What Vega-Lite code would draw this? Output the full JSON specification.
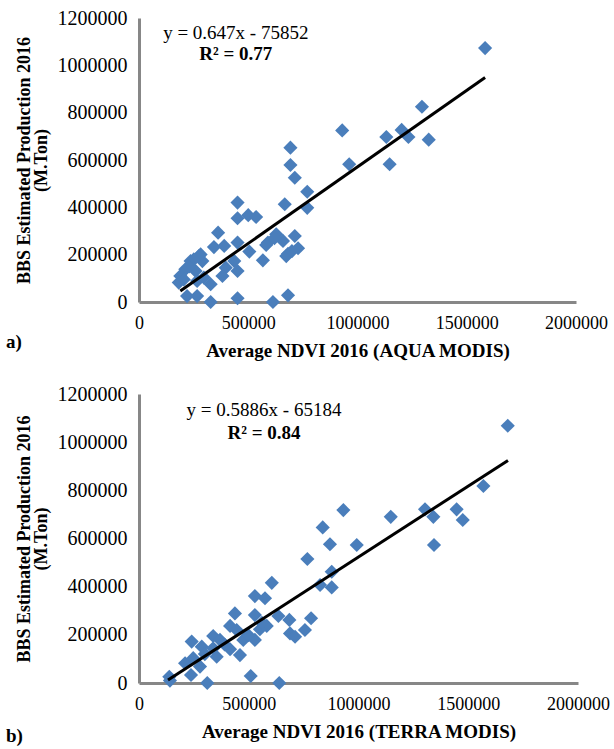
{
  "$schema": "https://vega.github.io/schema/vega-lite/v6.json",
  "padding": {"left": 6, "top": 8, "right": 5, "bottom": 0},
  "background": "white",
  "spacing": 24,
  "config": {
    "view": {"stroke": null},
    "axis": {
      "domainColor": "#878787", "domainWidth": 3, "ticks": false, "grid": false,
      "labelFont": "Times New Roman", "labelColor": "black",
      "titleFont": "Times New Roman", "titleFontWeight": "bold", "titleColor": "black"
    },
    "axisX": {"labelFontSize": 18, "labelPadding": 12, "titlePadding": 9, "titleFontSize": 19},
    "axisY": {"labelFontSize": 20, "labelPadding": 12, "titlePadding": 7, "titleLineHeight": 17, "titleFontSize": 18},
    "title": {"font": "Times New Roman", "fontSize": 19, "fontWeight": "bold", "color": "black"}
  },
  "datasets": {
    "aqua": [
      {"ndvi": 1584000, "production": 1073000}, {"ndvi": 1295000, "production": 825000},
      {"ndvi": 1202000, "production": 727000}, {"ndvi": 1132000, "production": 697000},
      {"ndvi": 1233000, "production": 697000}, {"ndvi": 1326000, "production": 686000},
      {"ndvi": 1147000, "production": 582000}, {"ndvi": 930000, "production": 725000},
      {"ndvi": 962000, "production": 582000}, {"ndvi": 693000, "production": 652000},
      {"ndvi": 693000, "production": 579000}, {"ndvi": 713000, "production": 525000},
      {"ndvi": 770000, "production": 466000}, {"ndvi": 770000, "production": 398000},
      {"ndvi": 667000, "production": 413000}, {"ndvi": 451000, "production": 420000},
      {"ndvi": 451000, "production": 354000}, {"ndvi": 500000, "production": 367000},
      {"ndvi": 536000, "production": 359000}, {"ndvi": 362000, "production": 293000},
      {"ndvi": 343000, "production": 232000}, {"ndvi": 390000, "production": 237000},
      {"ndvi": 451000, "production": 251000}, {"ndvi": 505000, "production": 213000},
      {"ndvi": 436000, "production": 173000}, {"ndvi": 451000, "production": 131000},
      {"ndvi": 397000, "production": 145000}, {"ndvi": 382000, "production": 110000},
      {"ndvi": 328000, "production": 75000}, {"ndvi": 274000, "production": 194000},
      {"ndvi": 290000, "production": 173000}, {"ndvi": 236000, "production": 173000},
      {"ndvi": 212000, "production": 138000}, {"ndvi": 189000, "production": 110000},
      {"ndvi": 182000, "production": 82000}, {"ndvi": 259000, "production": 131000},
      {"ndvi": 266000, "production": 89000}, {"ndvi": 220000, "production": 25000},
      {"ndvi": 266000, "production": 25000}, {"ndvi": 328000, "production": 0},
      {"ndvi": 451000, "production": 16000}, {"ndvi": 613000, "production": 0},
      {"ndvi": 682000, "production": 28000}, {"ndvi": 567000, "production": 176000},
      {"ndvi": 590000, "production": 251000}, {"ndvi": 628000, "production": 286000},
      {"ndvi": 659000, "production": 258000}, {"ndvi": 713000, "production": 279000},
      {"ndvi": 728000, "production": 227000}, {"ndvi": 682000, "production": 204000},
      {"ndvi": 674000, "production": 194000}, {"ndvi": 582000, "production": 241000},
      {"ndvi": 282000, "production": 201000}, {"ndvi": 251000, "production": 180000},
      {"ndvi": 297000, "production": 103000}, {"ndvi": 230000, "production": 150000},
      {"ndvi": 205000, "production": 95000}, {"ndvi": 620000, "production": 270000},
      {"ndvi": 700000, "production": 215000}
    ],
    "aquaFit": [
      {"ndvi": 189000, "production": 46400}, {"ndvi": 1584000, "production": 949000}
    ],
    "aquaText": [
      {"ndvi": 443000, "production": 1136600, "label": "y = 0.647x - 75852", "kind": "equation"},
      {"ndvi": 443000, "production": 1047900, "label": "R² = 0.77", "kind": "r2"}
    ],
    "terra": [
      {"ndvi": 1680000, "production": 1068000}, {"ndvi": 1569000, "production": 818000},
      {"ndvi": 1447000, "production": 721000}, {"ndvi": 1475000, "production": 677000},
      {"ndvi": 1303000, "production": 721000}, {"ndvi": 1341000, "production": 690000},
      {"ndvi": 1344000, "production": 573000}, {"ndvi": 1147000, "production": 690000},
      {"ndvi": 992000, "production": 573000}, {"ndvi": 931000, "production": 718000},
      {"ndvi": 837000, "production": 646000}, {"ndvi": 870000, "production": 576000},
      {"ndvi": 767000, "production": 515000}, {"ndvi": 878000, "production": 462000},
      {"ndvi": 825000, "production": 407000}, {"ndvi": 878000, "production": 397000},
      {"ndvi": 605000, "production": 416000}, {"ndvi": 528000, "production": 361000},
      {"ndvi": 574000, "production": 352000}, {"ndvi": 437000, "production": 289000},
      {"ndvi": 528000, "production": 282000}, {"ndvi": 635000, "production": 278000},
      {"ndvi": 685000, "production": 262000}, {"ndvi": 784000, "production": 269000},
      {"ndvi": 415000, "production": 237000}, {"ndvi": 445000, "production": 220000},
      {"ndvi": 582000, "production": 237000}, {"ndvi": 551000, "production": 223000},
      {"ndvi": 688000, "production": 206000}, {"ndvi": 711000, "production": 192000},
      {"ndvi": 756000, "production": 220000}, {"ndvi": 338000, "production": 195000},
      {"ndvi": 369000, "production": 179000}, {"ndvi": 240000, "production": 172000},
      {"ndvi": 286000, "production": 151000}, {"ndvi": 338000, "production": 144000},
      {"ndvi": 415000, "production": 140000}, {"ndvi": 475000, "production": 179000},
      {"ndvi": 528000, "production": 179000}, {"ndvi": 498000, "production": 199000},
      {"ndvi": 460000, "production": 116000}, {"ndvi": 354000, "production": 109000},
      {"ndvi": 210000, "production": 82000}, {"ndvi": 247000, "production": 103000},
      {"ndvi": 278000, "production": 68000}, {"ndvi": 138000, "production": 26000},
      {"ndvi": 141000, "production": 10000}, {"ndvi": 237000, "production": 33000},
      {"ndvi": 311000, "production": 0}, {"ndvi": 509000, "production": 29000},
      {"ndvi": 639000, "production": 0}, {"ndvi": 300000, "production": 120000},
      {"ndvi": 390000, "production": 160000}, {"ndvi": 560000, "production": 250000}
    ],
    "terraFit": [
      {"ndvi": 132000, "production": 12500}, {"ndvi": 1681000, "production": 924200}
    ],
    "terraText": [
      {"ndvi": 569500, "production": 1133600, "label": "y = 0.5886x - 65184", "kind": "equation"},
      {"ndvi": 569500, "production": 1038000, "label": "R² = 0.84", "kind": "r2"}
    ]
  },
  "vconcat": [
    {
      "width": 437, "height": 284,
      "title": {"text": "a)", "orient": "bottom", "anchor": "start", "frame": "group", "dx": -133, "dy": -27, "offset": 0},
      "encoding": {
        "x": {"field": "ndvi", "type": "quantitative", "scale": {"domain": [0, 2000000], "nice": false},
              "axis": {"values": [0, 500000, 1000000, 1500000, 2000000], "format": "d", "labelFlush": false, "title": "Average NDVI 2016 (AQUA MODIS)"}},
        "y": {"field": "production", "type": "quantitative", "scale": {"domain": [0, 1200000], "nice": false},
              "axis": {"values": [0, 200000, 400000, 600000, 800000, 1000000, 1200000], "format": "d", "labelFlush": false, "title": ["BBS Estimated Production 2016", "(M.Ton)"]}}
      },
      "layer": [
        {"data": {"name": "aqua"}, "mark": {"type": "point", "shape": "diamond", "filled": true, "size": 200, "color": "#4a7ebb", "opacity": 1}},
        {"data": {"name": "aquaFit"}, "mark": {"type": "line", "color": "black", "strokeWidth": 3}},
        {"data": {"name": "aquaText"}, "transform": [{"filter": "datum.kind == 'equation'"}],
         "mark": {"type": "text", "font": "Times New Roman", "fontSize": 19, "color": "black"},
         "encoding": {"text": {"field": "label"}}},
        {"data": {"name": "aquaText"}, "transform": [{"filter": "datum.kind == 'r2'"}],
         "mark": {"type": "text", "font": "Times New Roman", "fontSize": 19, "fontWeight": "bold", "color": "black"},
         "encoding": {"text": {"field": "label"}}}
      ]
    },
    {
      "width": 439, "height": 289,
      "title": {"text": "b)", "orient": "bottom", "anchor": "start", "frame": "group", "dx": -133, "dy": -14, "offset": 0},
      "encoding": {
        "x": {"field": "ndvi", "type": "quantitative", "scale": {"domain": [0, 2000000], "nice": false},
              "axis": {"values": [0, 500000, 1000000, 1500000, 2000000], "format": "d", "labelFlush": false, "title": "Average NDVI 2016 (TERRA  MODIS)"}},
        "y": {"field": "production", "type": "quantitative", "scale": {"domain": [0, 1200000], "nice": false},
              "axis": {"values": [0, 200000, 400000, 600000, 800000, 1000000, 1200000], "format": "d", "labelFlush": false, "title": ["BBS Estimated Production 2016", "(M.Ton)"]}}
      },
      "layer": [
        {"data": {"name": "terra"}, "mark": {"type": "point", "shape": "diamond", "filled": true, "size": 200, "color": "#4a7ebb", "opacity": 1}},
        {"data": {"name": "terraFit"}, "mark": {"type": "line", "color": "black", "strokeWidth": 3}},
        {"data": {"name": "terraText"}, "transform": [{"filter": "datum.kind == 'equation'"}],
         "mark": {"type": "text", "font": "Times New Roman", "fontSize": 19, "color": "black"},
         "encoding": {"text": {"field": "label"}}},
        {"data": {"name": "terraText"}, "transform": [{"filter": "datum.kind == 'r2'"}],
         "mark": {"type": "text", "font": "Times New Roman", "fontSize": 19, "fontWeight": "bold", "color": "black"},
         "encoding": {"text": {"field": "label"}}}
      ]
    }
  ]
}
